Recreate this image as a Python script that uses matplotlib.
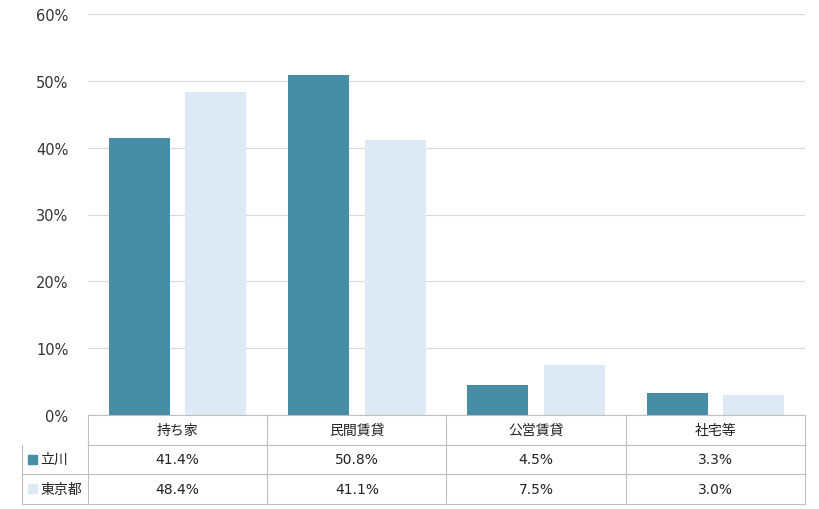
import matplotlib.pyplot as plt
from matplotlib.patches import Rectangle

plt.rcParams['font.family'] = ['DejaVu Sans', 'Noto Sans CJK JP']

categories = ['持ち家', '民間賃貸', '公営賃貸', '社宅等']
series_names = ['立川', '東京都']
tachikawa = [41.4, 50.8, 4.5, 3.3]
tokyo = [48.4, 41.1, 7.5, 3.0]
colors = ['#468DA5', '#DDEAF5']

fig = plt.figure(figsize=(8.2, 5.1), dpi=100)
ax = fig.add_axes([88 / 820, 94 / 510, 717 / 820, 401 / 510])

x = range(len(categories))
w = 0.34
ax.bar([i - 0.213 for i in x], tachikawa, w, color=colors[0])
ax.bar([i + 0.213 for i in x], tokyo, w, color=colors[1])

ax.set_xlim(-0.5, len(categories) - 0.5)
ax.set_ylim(0, 60)
ax.set_yticks(range(0, 61, 10))
ax.set_yticklabels([f'{v}%' for v in range(0, 61, 10)], fontsize=10.5, color='#333333')
ax.grid(axis='y', color='#D9D9D9', linewidth=0.8)
ax.set_axisbelow(True)
ax.set_xticks([])
for s in ['top', 'right', 'left']:
    ax.spines[s].set_visible(False)
ax.spines['bottom'].set_color('#BFBFBF')
ax.tick_params(axis='y', length=0, pad=14)

# data table below the axes
line_c = '#BFBFBF'
row_h = 29.5 / 401
left = -66 / 717
tr = ax.transAxes
jp = ['Noto Sans CJK JP', 'DejaVu Sans']
n = len(categories)
# horizontal lines
for k in range(1, 4):
    y = -k * row_h
    ax.plot([left if k > 1 else 0, 1], [y, y], color=line_c, lw=0.8, transform=tr, clip_on=False)
ax.plot([left, left], [-row_h, -3 * row_h], color=line_c, lw=0.8, transform=tr, clip_on=False)
for j in range(n + 1):
    xx = j / n
    ax.plot([xx, xx], [0, -3 * row_h], color=line_c, lw=0.8, transform=tr, clip_on=False)
for j, c in enumerate(categories):
    ax.text((j + 0.5) / n, -0.5 * row_h, c, ha='center', va='center', fontsize=10,
            family=jp, transform=tr, color='#222222')
for r, (name, vals) in enumerate(zip(series_names, [tachikawa, tokyo])):
    yc = -(r + 1.5) * row_h
    ax.add_patch(Rectangle((left + 6 / 717, yc - 4.5 / 401), 9 / 717, 9 / 401, color=colors[r],
                           transform=tr, clip_on=False))
    ax.text(left + 18 / 717, yc, name, ha='left', va='center', fontsize=10, family=jp,
            transform=tr, color='#222222')
    for j, v in enumerate(vals):
        ax.text((j + 0.5) / n, yc, f'{v:.1f}%', ha='center', va='center', fontsize=10,
                transform=tr, color='#222222')

fig.savefig('out.png', dpi=100)
